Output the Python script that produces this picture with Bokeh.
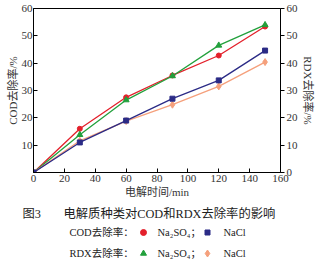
from bokeh.plotting import figure
from bokeh.models import LinearAxis, Range1d, FixedTicker, ColumnDataSource
from bokeh.layouts import column, row
from bokeh.core.properties import value
from bokeh.embed import file_html
from bokeh.resources import INLINE

# ---- data ----
time_min = [0, 30, 60, 90, 120, 150]
cod_na2so4 = [0, 16.0, 27.5, 35.5, 42.8, 53.4]
cod_nacl = [0, 11.0, 19.0, 27.0, 33.7, 44.6]
rdx_na2so4 = [0, 13.8, 26.5, 35.3, 46.5, 54.0]
rdx_nacl = [0, 11.6, 18.8, 24.8, 31.5, 40.4]
x_ticks = [0, 20, 40, 60, 80, 100, 120, 140, 160]
left_ticks = [10, 20, 30, 40, 50, 60]
right_ticks = [0, 10, 20, 30, 40, 50, 60]
fig_no = "图3"
title_text = "电解质种类对COD和RDX去除率的影响"
row_labels = ["COD去除率：", "RDX去除率："]
series_labels = ["Na₂SO₄；", "NaCl"]

FONT = "'Liberation Serif', 'Noto Sans CJK SC', serif"

RED = "#e3202b"
BLUE = "#2b2b86"
GREEN = "#22a03c"
ORANGE = "#f5a07c"
TXT = "#222222"

p = figure(width=316, height=200, output_backend="svg", toolbar_location=None,
           x_range=Range1d(0, 160), y_range=Range1d(0, 60),
           min_border_left=33, min_border_right=36, min_border_top=8, min_border_bottom=28,
           y_axis_location="left")
p.extra_y_ranges = {"r": Range1d(0, 60)}
p.grid.visible = False
p.outline_line_color = "black"
p.outline_line_width = 1
p.background_fill_color = "white"
p.border_fill_color = "white"

xa = p.xaxis[0]
xa.ticker = FixedTicker(ticks=x_ticks)
xa.axis_label = "电解时间/min"
ya = p.yaxis[0]
ya.ticker = FixedTicker(ticks=left_ticks)
ya.axis_label = "COD去除率/%"
ra = LinearAxis(y_range_name="r", ticker=FixedTicker(ticks=right_ticks), axis_label="RDX去除率/%")
p.add_layout(ra, "right")

for ax in [xa, ya, ra]:
    ax.axis_line_color = "black"
    ax.major_tick_line_color = "black"
    ax.minor_tick_line_color = None
    ax.major_label_text_font = FONT
    ax.major_label_text_font_size = "11px"
    ax.major_label_text_color = "#333333"
    ax.axis_label_text_font = FONT
    ax.axis_label_text_font_size = "11px"
    ax.axis_label_text_font_style = "normal"
    ax.axis_label_text_color = "#333333"
    ax.axis_label_standoff = 1
    ax.major_label_standoff = 2
ya.axis_label_standoff = 0
ya.major_label_standoff = 1
xa.major_tick_in = 4
xa.major_tick_out = 0
ya.major_tick_in = 4
ya.major_tick_out = 0
ra.major_tick_in = 0
ra.major_tick_out = 4

src = ColumnDataSource(dict(t=time_min, a=cod_na2so4, b=cod_nacl, c=rdx_na2so4, d=rdx_nacl))
p.line("t", "a", source=src, color=RED, line_width=1.3)
p.scatter("t", "a", source=src, marker="circle", size=5, color=RED)
p.line("t", "c", source=src, color=GREEN, line_width=1.3)
p.scatter("t", "c", source=src, marker="triangle", size=6, color=GREEN)
p.line("t", "d", source=src, color=ORANGE, line_width=1.3)
p.scatter("t", "d", source=src, marker="diamond", size=7, color=ORANGE)
p.line("t", "b", source=src, color=BLUE, line_width=1.3)
p.scatter("t", "b", source=src, marker="square", size=5, color=BLUE)

# ---- caption figure (page pixel coordinates) ----
c = figure(width=316, height=66, output_backend="svg", toolbar_location=None,
           x_range=Range1d(0, 316), y_range=Range1d(266, 200),
           x_axis_type=None, y_axis_type=None, min_border=0,
           min_border_left=0, min_border_right=0, min_border_top=0, min_border_bottom=0)
c.grid.visible = False
c.outline_line_color = None
c.text(x=[22], y=[213], text=[fig_no], text_font=value(FONT), text_font_size="12.3px",
       text_baseline="middle", text_color=TXT)
c.text(x=[63], y=[213], text=[title_text], text_font=value(FONT), text_font_size="12.3px",
       text_baseline="middle", text_color=TXT)
row_y = [232, 253]
c.text(x=[69, 69], y=row_y, text=row_labels, text_font=value(FONT), text_font_size="10.5px",
       text_baseline="middle", text_color=TXT)
c.text(x=[157, 157], y=row_y, text=[series_labels[0]] * 2, text_font=value(FONT),
       text_font_size="10.5px", text_baseline="middle", text_color=TXT)
c.text(x=[223, 223], y=row_y, text=[series_labels[1]] * 2, text_font=value(FONT),
       text_font_size="10.5px", text_baseline="middle", text_color=TXT)
c.scatter([143], [row_y[0]], marker="circle", size=6, color=RED)
c.scatter([207], [row_y[0]], marker="square", size=5, color=BLUE)
c.scatter([143], [row_y[1]], marker="triangle", size=6, color=GREEN)
c.scatter([207], [row_y[1]], marker="diamond", size=7, color=ORANGE)

layout = column(p, row(c, spacing=0), spacing=0)
open("out.html", "w").write(file_html(layout, INLINE))
